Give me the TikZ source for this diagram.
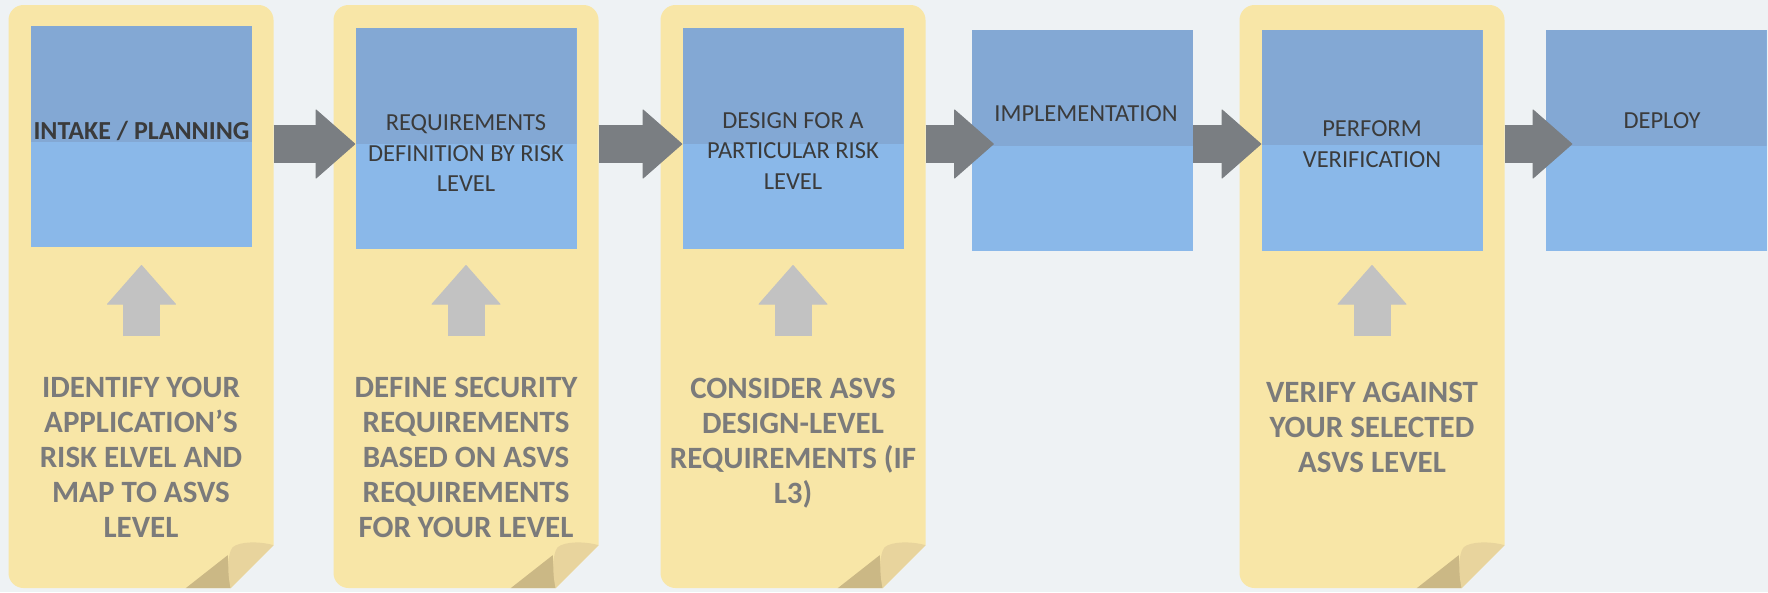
\documentclass[tikz,border=0pt]{standalone}
\usepackage{fontspec}
\setmainfont{Carlito}
\usetikzlibrary{arrows.meta,calc}
\definecolor{canvas}{HTML}{EEF2F4}
\definecolor{paper}{HTML}{F8E6A7}
\definecolor{foldlight}{HTML}{E8D49D}
\definecolor{folddark}{HTML}{CBB885}
\definecolor{bluehigh}{HTML}{83A8D4}
\definecolor{bluelow}{HTML}{8AB8E9}
\definecolor{flowgray}{HTML}{7A7E82}
\definecolor{liftgray}{HTML}{C2C2C2}
\definecolor{boxink}{HTML}{3B3B3B}
\definecolor{noteink}{HTML}{7B7B7B}
\tikzset{note/.style={fill=paper,rounded corners=15pt,minimum width=265pt,minimum height=583pt,inner sep=0pt},stage/.style={fill=bluelow,minimum width=221pt,minimum height=221pt,inner sep=0pt,path picture={\fill[bluehigh] (path picture bounding box.north west) rectangle ([yshift=-5pt]path picture bounding box.east);}},stagetext/.style={text=boxink,align=center,inner sep=0pt,font=\fontsize{24.5}{30.5}\selectfont},task/.style={text=noteink,align=center,anchor=north,inner sep=0pt,font=\bfseries\fontsize{31}{35}\selectfont},flow/.style={draw=flowgray,line width=38pt,-{Triangle[length=40pt,width=70pt,line width=1pt,round]}},lift/.style={draw=liftgray,line width=37pt,-{Triangle[length=40pt,width=70pt,line width=1pt,round]}}}

\begin{document}
\begin{tikzpicture}[x=1pt,y=-1pt]
\fill[canvas] (0,0) rectangle (1768,592);
\useasboundingbox (0,0) rectangle (1768,592);

% sticky notes behind the stages that have a task
\node[note] (n1) at (141,296.5) {};
\node[note] (n2) at (466,296.5) {};
\node[note] (n3) at (793,296.5) {};
\node[note] (n5) at (1372,296.5) {};
\foreach \n in {n1,n2,n3,n5}{
\begin{scope}[shift={(\n.south east)}]
\fill[canvas] (0,-43) -- (2,-43) -- (2,2) -- (-43,2) -- (-43,0) -- cycle;
\fill[folddark] (-88,0) -- (-46,-33) -- (-43,0) -- cycle;
\fill[foldlight] (0,-43) .. controls (-14,-47) and (-34,-47) .. (-41,-41) .. controls (-47,-34) and (-46,-12) .. (-43,0) -- cycle;
\end{scope}}

% stages
\node[stage] (b1) at (141.5,136.5) {};
\node[stage] (b2) at (466,138.5) {};
\node[stage] (b3) at (793,138.5) {};
\node[stage] (b4) at (1082.5,140.5) {};
\node[stage] (b5) at (1372,140) {};
\node[stage] (b6) at (1656,140.5) {};
\node[stagetext,font=\bfseries\fontsize{26}{30.5}\selectfont] (s1) at (141.5,131) {INTAKE / PLANNING};
\node[stagetext] (s2) at (466,153.5) {REQUIREMENTS\\DEFINITION BY RISK\\LEVEL};
\node[stagetext] (s3) at (793,151) {DESIGN FOR A\\PARTICULAR RISK\\LEVEL};
\node[stagetext] (s4) at (1086,114) {IMPLEMENTATION};
\node[stagetext] (s5) at (1372,144) {PERFORM\\VERIFICATION};
\node[stagetext] (s6) at (1662,121) {DEPLOY};

% tasks
\node[task] (c1) at (141,377) {IDENTIFY YOUR\\APPLICATION’S\\RISK ELVEL AND\\MAP TO ASVS\\LEVEL};
\node[task] (c2) at (466,377) {DEFINE SECURITY\\REQUIREMENTS\\BASED ON ASVS\\REQUIREMENTS\\FOR YOUR LEVEL};
\node[task] (c3) at (793,378) {CONSIDER ASVS\\DESIGN-LEVEL\\REQUIREMENTS (IF\\L3)};
\node[task] (c5) at (1372,382) {VERIFY AGAINST\\YOUR SELECTED\\ASVS LEVEL};

% arrows
\coordinate (lane) at (0,144);
\coordinate (liftfoot) at (0,336);
\coordinate (lifttip) at (0,265);
\foreach \b in {b1,b2,b3,b5} \draw[lift] (\b |- liftfoot) -- (\b |- lifttip);
\draw[flow] (n1.east |- lane) -- (b2.west |- lane);
\draw[flow] (n2.east |- lane) -- (b3.west |- lane);
\draw[flow] (n3.east |- lane) -- ($(b4.west |- lane)+(22,0)$);
\draw[flow] (b4.east |- lane) -- (b5.west |- lane);
\draw[flow] (n5.east |- lane) -- ($(b6.west |- lane)+(27,0)$);
\end{tikzpicture}
\end{document}
